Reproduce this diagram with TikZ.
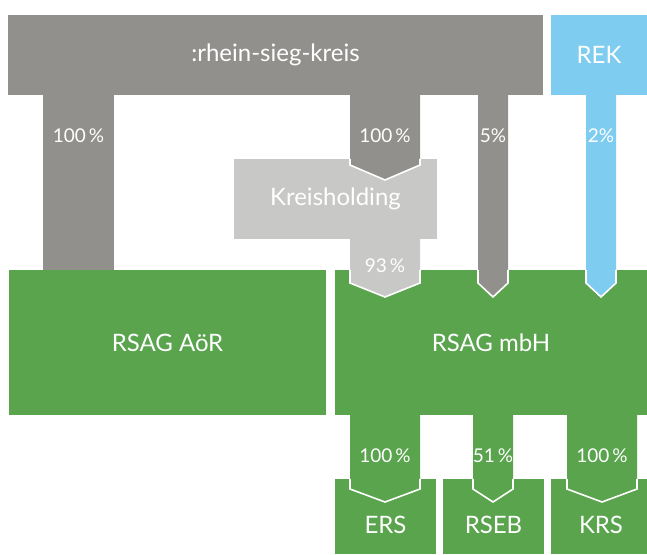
\documentclass[tikz,border=0pt]{standalone}
\usepackage{fontspec}
\setmainfont{Lato}
\usetikzlibrary{calc}
\definecolor{rskgray}{RGB}{146,144,141}
\definecolor{holdgray}{RGB}{200,200,198}
\definecolor{rsgreen}{RGB}{89,164,77}
\definecolor{rekblue}{RGB}{126,205,240}
% #1 colour, #2 from node, #3 to node, #4 x left, #5 x right, #6 y where sides end, #7 y of tip
\newcommand\flowarrow[7]{%
  \fill[#1] let \p1=(#2.south) in
    (#4pt,\y1) -- (#5pt,\y1) -- (#5pt,-#6pt) -- ({(#4+#5)/2*1pt},-#7pt) -- (#4pt,-#6pt) -- cycle;
  \draw[flowedge] let \p2=(#3.north) in
    (#5pt,\y2) -- (#5pt,-#6pt) -- ({(#4+#5)/2*1pt},-#7pt) -- (#4pt,-#6pt) -- (#4pt,\y2);
}
\newcommand\flowplain[5]{%
  \fill[#1] let \p1=(#2.south), \p2=(#3.north) in
    (#4pt,\y1) rectangle (#5pt,\y2);
}
\begin{document}
\begin{tikzpicture}[x=1pt,y=-1pt,
  box/.style={rectangle, inner sep=0pt, text=white, font=\fontsize{24}{27}\selectfont},
  pct/.style={text=white, font=\fontsize{19}{21}\selectfont, inner sep=0pt},
  flowedge/.style={draw=white, line width=1.6pt, line join=miter}]
\useasboundingbox[fill=white] (0,0) rectangle (647,554);

% owners
\node[box, fill=rskgray, minimum width=535pt, minimum height=80pt] (rsk) at (275.5,55) {:rhein-sieg-kreis};
\node[box, fill=rekblue, minimum width=96pt, minimum height=80pt] (rek) at (599,55) {REK};
\node[box, fill=holdgray, minimum width=203pt, minimum height=80pt] (hold) at (335.5,199) {Kreisholding};

% companies
\node[box, fill=rsgreen, minimum width=317pt, minimum height=145pt] (aor) at (167.5,342.5) {RSAG AöR};
\node[box, fill=rsgreen, minimum width=312pt, minimum height=145pt] (mbh) at (491,342.5) {RSAG mbH};
\node[box, fill=rsgreen, minimum width=101pt, minimum height=75pt] (ers) at (385.5,516.5) {};
\node[box, fill=rsgreen, minimum width=101pt, minimum height=75pt] (rseb) at (493.5,516.5) {};
\node[box, fill=rsgreen, minimum width=96pt, minimum height=75pt] (krs) at (599,516.5) {};

% flows
\flowplain{rskgray}{rsk}{aor}{43}{114}
\flowarrow{rskgray}{rsk}{hold}{350}{420}{165}{180}
\flowarrow{holdgray}{hold}{mbh}{350}{420}{283}{297}
\flowarrow{rskgray}{rsk}{mbh}{478}{508}{283}{297}
\flowarrow{rekblue}{rek}{mbh}{586}{616}{283}{297}
\flowarrow{rsgreen}{mbh}{ers}{350}{420}{489}{502}
\flowarrow{rsgreen}{mbh}{rseb}{473}{513}{489}{502}
\flowarrow{rsgreen}{mbh}{krs}{567}{637}{489}{502}

% box names of the lower companies
\node[box] (erslabel) at (385.5,525) {ERS};
\node[box] (rseblabel) at (493.5,525) {RSEB};
\node[box] (krslabel) at (601,525) {KRS};

% percentages
\node[pct] (p1) at (78.5,136) {100\,\%};
\node[pct] (p2) at (385,136) {100\,\%};
\node[pct] (p3) at (493,136) {5\%};
\node[pct] (p4) at (601,136) {2\%};
\node[pct] (p5) at (385,266) {93\,\%};
\node[pct] (p6) at (385,456) {100\,\%};
\node[pct] (p7) at (493,456) {51\,\%};
\node[pct] (p8) at (602,456) {100\,\%};
\end{tikzpicture}
\end{document}
